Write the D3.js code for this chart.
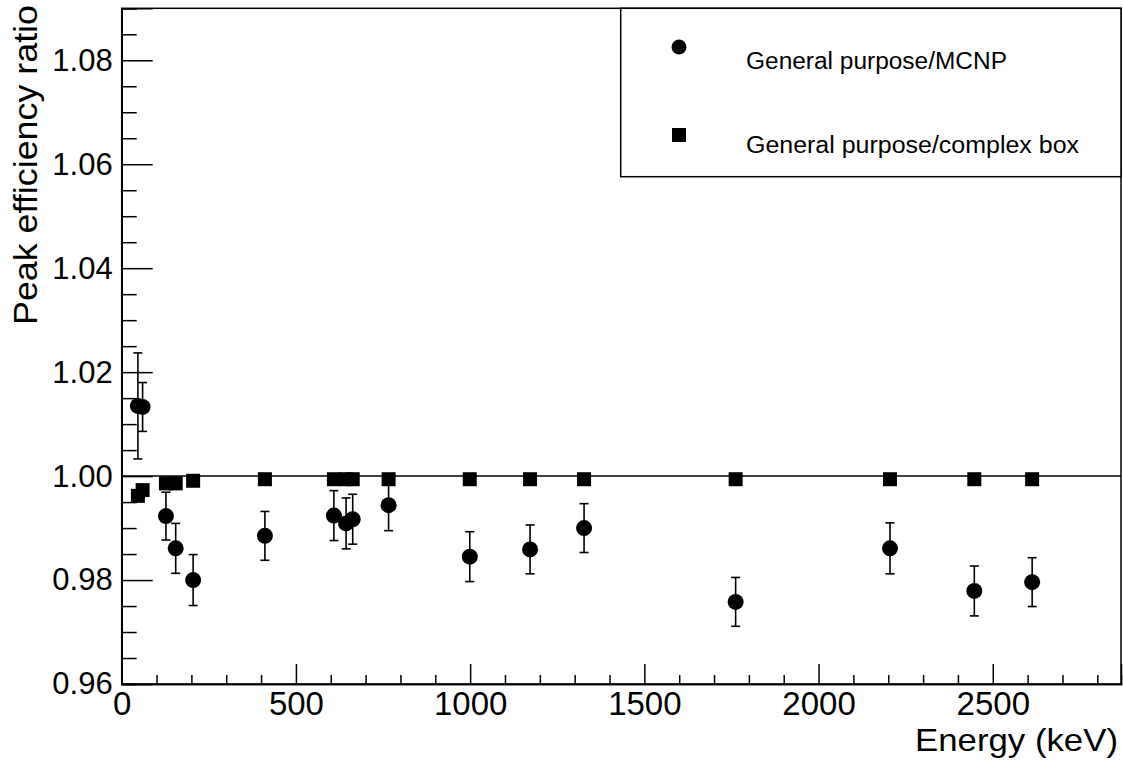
<!DOCTYPE html>
<html>
<head>
<meta charset="utf-8">
<script src="https://cdn.jsdelivr.net/npm/d3@7"></script>
<style>
  html, body { margin: 0; padding: 0; background: #fff; }
  svg { display: block; }
  text { font-family: "Liberation Sans", Arial, Helvetica, sans-serif; fill: #000; }
</style>
</head>
<body>
<script>
// ---- data ----
const energies   = [46.5, 60, 127, 155, 205, 411, 609, 644, 663, 766, 999, 1172, 1327, 1762, 2205, 2447, 2613];
const mcnpRatio  = [1.0135, 1.0133, 0.9923, 0.9861, 0.9800, 0.9885, 0.9924, 0.9909, 0.9917, 0.9944, 0.9845, 0.9859, 0.9900, 0.9758, 0.9861, 0.9779, 0.9796];
const mcnpErr    = [0.0102, 0.0047, 0.0046, 0.0048, 0.0049, 0.0047, 0.0048, 0.0049, 0.0048, 0.0049, 0.0048, 0.0047, 0.0047, 0.0047, 0.0049, 0.0048, 0.0047];
const boxRatio   = [0.9962, 0.9973, 0.9986, 0.9986, 0.9991, 0.9994, 0.9994, 0.9994, 0.9994, 0.9994, 0.9994, 0.9994, 0.9994, 0.9994, 0.9994, 0.9994, 0.9994];
const seriesNames = ["General purpose/MCNP", "General purpose/complex box"];
const xMajorTicks = [0, 500, 1000, 1500, 2000, 2500];
const yMajorTicks = [0.96, 0.98, 1.00, 1.02, 1.04, 1.06, 1.08];
const xDomain = [0, 2868];
const yDomain = [0.96, 1.09];
const xTitle = "Energy (keV)";
const yTitle = "Peak efficiency ratio";

// ---- layout ----
const W = 1123, H = 766;
const L = 121.7, R = 1121, T = 8.3, B = 684;

const svg = d3.select("body").append("svg").attr("width", W).attr("height", H);

const x = d3.scaleLinear().domain(xDomain).range([L, R]);
const y = d3.scaleLinear().domain(yDomain).range([B, T]);

const xMinor = d3.range(0, xDomain[1] + 1, 100).filter(v => v % 500 !== 0);
const yMinor = d3.range(0, 27).map(i => +(0.96 + i * 0.005).toFixed(3))
  .filter(v => v <= yDomain[1] && !yMajorTicks.some(t => Math.abs(t - v) < 1e-6));

// frame
svg.append("rect").attr("x", L).attr("y", T).attr("width", R - L).attr("height", B - T)
  .attr("fill", "none").attr("stroke", "#000").attr("stroke-width", 1.5);

// x axis
const gx = svg.append("g").attr("transform", `translate(0,${B})`);
gx.call(d3.axisBottom(x).tickValues(xMajorTicks).tickSize(-20).tickPadding(8).tickFormat(d3.format("d")));
gx.append("g").call(d3.axisBottom(x).tickValues(xMinor).tickSize(-9).tickFormat(""));
gx.selectAll(".domain").attr("stroke", "#000").attr("stroke-width", 1.5);
gx.selectAll(".tick line").attr("stroke", "#000").attr("stroke-width", 1.5);
gx.selectAll(".tick text").attr("font-size", 33).attr("font-family", "Liberation Sans, Arial, sans-serif");

// y axis
const gy = svg.append("g").attr("transform", `translate(${L},0)`);
gy.call(d3.axisLeft(y).tickValues(yMajorTicks).tickSize(-31).tickPadding(9).tickFormat(d3.format(".2f")));
gy.append("g").call(d3.axisLeft(y).tickValues(yMinor).tickSize(-15).tickFormat(""));
gy.selectAll(".domain").attr("stroke", "#000").attr("stroke-width", 1.5);
gy.selectAll(".tick line").attr("stroke", "#000").attr("stroke-width", 1.5);
gy.selectAll(".tick text").attr("font-size", 31).attr("font-family", "Liberation Sans, Arial, sans-serif");

// axis titles
svg.append("text").attr("x", 1118).attr("y", 751).attr("text-anchor", "end")
  .attr("font-size", 32).attr("textLength", 203).attr("lengthAdjust", "spacingAndGlyphs").text(xTitle);
svg.append("text").attr("transform", "translate(37,5) rotate(-90)").attr("text-anchor", "end")
  .attr("font-size", 33).attr("textLength", 320).attr("lengthAdjust", "spacingAndGlyphs").text(yTitle);

// reference line at 1
svg.append("line").attr("x1", L).attr("x2", R).attr("y1", y(1)).attr("y2", y(1))
  .attr("stroke", "#000").attr("stroke-width", 1.5);

const pts = energies.map((e, i) => ({ e, v: mcnpRatio[i], err: mcnpErr[i], b: boxRatio[i] }));

// error bars
const eb = svg.append("g").attr("stroke", "#000").attr("stroke-width", 1.6);
pts.forEach(d => {
  const cx = x(d.e);
  eb.append("line").attr("x1", cx).attr("x2", cx).attr("y1", y(d.v - d.err)).attr("y2", y(d.v + d.err));
  eb.append("line").attr("x1", cx - 4.5).attr("x2", cx + 4.5).attr("y1", y(d.v - d.err)).attr("y2", y(d.v - d.err));
  eb.append("line").attr("x1", cx - 4.5).attr("x2", cx + 4.5).attr("y1", y(d.v + d.err)).attr("y2", y(d.v + d.err));
});

// squares (complex box)
svg.append("g").selectAll("rect").data(pts).join("rect")
  .attr("x", d => x(d.e) - 7).attr("y", d => y(d.b) - 7).attr("width", 14).attr("height", 14).attr("fill", "#000");

// circles (MCNP)
svg.append("g").selectAll("circle").data(pts).join("circle")
  .attr("cx", d => x(d.e)).attr("cy", d => y(d.v)).attr("r", 8).attr("fill", "#000");

// legend
const lg = svg.append("g");
lg.append("rect").attr("x", 620.7).attr("y", T).attr("width", R - 620.7).attr("height", 176.7 - T)
  .attr("fill", "#fff").attr("stroke", "#000").attr("stroke-width", 1.5);
lg.append("circle").attr("cx", 679).attr("cy", 47).attr("r", 7.5).attr("fill", "#000");
lg.append("rect").attr("x", 672).attr("y", 128).attr("width", 14).attr("height", 14).attr("fill", "#000");
lg.append("text").attr("x", 746).attr("y", 69.3).attr("font-size", 23)
  .attr("textLength", 261).attr("lengthAdjust", "spacingAndGlyphs").text(seriesNames[0]);
lg.append("text").attr("x", 746).attr("y", 152.7).attr("font-size", 23)
  .attr("textLength", 333).attr("lengthAdjust", "spacingAndGlyphs").text(seriesNames[1]);
</script>
</body>
</html>
